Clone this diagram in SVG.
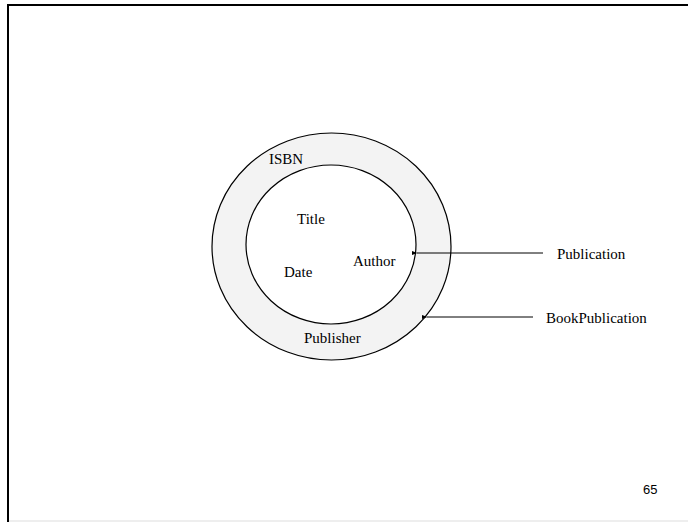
<svg xmlns="http://www.w3.org/2000/svg" width="688" height="522" viewBox="0 0 688 522">
<style>
.t{font-family:"Liberation Serif","Times New Roman",serif;font-size:15px;fill:#000}
.c{stroke:#000;stroke-width:1.2}
.a{stroke:#000;stroke-width:1;fill:none}
</style>
<defs>
<marker id="ah" viewBox="0 0 6 6" refX="0.5" refY="3" markerWidth="6" markerHeight="6" markerUnits="userSpaceOnUse" orient="auto">
<path d="M6,0.8 L0,3 L6,5.2 Z" fill="#000"/>
</marker>
</defs>
<rect width="688" height="522" fill="#fff"/>
<g id="frame">
<line x1="7.5" y1="5" x2="688" y2="5" stroke="#000" stroke-width="2"/>
<line x1="8" y1="4" x2="8" y2="522" stroke="#000" stroke-width="2"/>
<line x1="9" y1="521" x2="688" y2="521" stroke="#ddd" stroke-width="1"/>
</g>
<g id="BookPublication">
<ellipse class="c" cx="331.5" cy="246.5" rx="119.5" ry="113.5" fill="#f3f3f3"/>
<text class="t" x="269" y="164">ISBN</text>
<text class="t" x="304" y="343">Publisher</text>
</g>
<g id="Publication">
<ellipse class="c" cx="331" cy="244.5" rx="85" ry="79.5" fill="#fff"/>
<text class="t" x="297" y="224">Title</text>
<text class="t" x="353" y="266">Author</text>
<text class="t" x="284" y="277">Date</text>
</g>
<g id="connectors">
<line class="a" x1="543" y1="253" x2="417" y2="253" marker-end="url(#ah)"/>
<line class="a" x1="533" y1="317" x2="427" y2="317" marker-end="url(#ah)"/>
</g>
<g id="labels">
<text class="t" x="557" y="259">Publication</text>
<text class="t" x="546" y="323">BookPublication</text>
</g>
<text x="643" y="494" font-family="Liberation Sans, Arial, sans-serif" font-size="13" fill="#000">65</text>
</svg>
